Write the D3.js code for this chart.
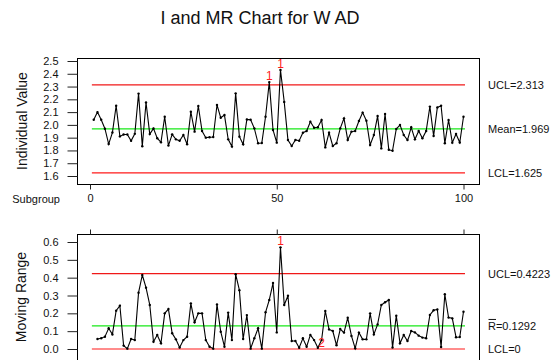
<!DOCTYPE html>
<html>
<head>
<meta charset="utf-8">
<script src="https://cdn.jsdelivr.net/npm/d3@7"></script>
<style>
  body { margin: 0; background: #fff; }
  svg text { font-family: "Liberation Sans", Arial, sans-serif; fill: #111; }
</style>
</head>
<body>
<div id="container"></div>
<script>
// values

var individualValues = [
  2.04, 2.10, 2.04, 1.97, 1.85, 1.94, 2.15, 1.91, 1.925, 1.925,
  1.875, 1.93, 2.245, 1.833, 2.175, 1.928, 1.972, 1.896, 1.864, 2.064,
  1.838, 1.926, 1.887, 1.876, 1.921, 1.848, 2.103, 1.947, 2.148, 1.952,
  1.90, 1.903, 1.905, 2.156, 2.056, 2.077, 1.887, 1.83, 2.247, 1.908,
  1.848, 2.043, 2.04, 1.973, 1.856, 1.858, 2.064, 2.335, 1.96, 1.861,
  2.43, 2.18, 1.882, 1.835, 1.882, 1.876, 1.939, 1.952, 2.025, 1.978,
  1.981, 2.038, 1.824, 1.939, 1.835, 1.856, 1.973, 2.051, 1.882, 1.947,
  1.952, 2.03, 2.096, 2.033, 1.843, 1.921, 2.069, 1.816, 2.085, 1.805,
  1.798, 1.968, 1.999, 1.921, 1.882, 1.981, 1.887, 1.952, 1.895, 1.952,
  2.143, 1.913, 2.137, 2.15, 1.856, 2.038, 1.861, 1.929, 1.862, 2.064
];

// moving ranges start at subgroup 2
var movingRanges = [
  0.056, 0.06, 0.069, 0.116, 0.082, 0.215, 0.243, 0.019, 0.002,
  0.056, 0.05, 0.316, 0.415, 0.344, 0.247, 0.041, 0.079, 0.032, 0.2,
  0.224, 0.088, 0.054, 0.008, 0.05, 0.069, 0.256, 0.15, 0.2, 0.2,
  0.05, 0.013, 0.002, 0.25, 0.097, 0.013, 0.204, 0.05, 0.419, 0.33,
  0.056, 0.19, 0.002, 0.06, 0.116, 0.002, 0.206, 0.275, 0.37, 0.093,
  0.57, 0.247, 0.299, 0.045, 0.045, 0.007, 0.06, 0.013, 0.079, 0.05,
  0.007, 0.05, 0.213, 0.11, 0.101, 0.021, 0.112, 0.092, 0.175, 0.073,
  0.004, 0.092, 0.054, 0.054, 0.2, 0.082, 0.138, 0.247, 0.262, 0.275,
  0.008, 0.187, 0.032, 0.079, 0.045, 0.101, 0.093, 0.075, 0.064, 0.06,
  0.191, 0.217, 0.222, 0.011, 0.307, 0.176, 0.172, 0.066, 0.067, 0.209
];

var iLimits = { ucl: 2.313, center: 1.969, lcl: 1.625 };
var mrLimits = { ucl: 0.4223, center: 0.1292, lcl: 0 };

var iTicks = [1.6, 1.7, 1.8, 1.9, 2.0, 2.1, 2.2, 2.3, 2.4, 2.5];
var mrTicks = [0.0, 0.1, 0.2, 0.3, 0.4, 0.5, 0.6];
var subgroupTicks = [0, 50, 100];

// out of control flags (subgroup, test number)
var iFlags = [[48, "1"], [51, "1"]];
var mrFlags = [[51, "1"], [62, "2"]];

var w = 559;
var h = 360;
var frameLeft = 77;
var frameRight = 479;

var svg = d3
  .select("#container")
  .append("svg")
  .attr("width", w)
  .attr("height", h);

var xScale = d3.scaleLinear().domain([0, 100]).range([90, 463.5]);
var yI = d3.scaleLinear().domain([1.6, 2.5]).range([176, 61]);
var yMR = d3.scaleLinear().domain([0, 0.6]).range([349, 242]);
var fmt = d3.format(".1f");

svg
  .append("text")
  .attr("x", 260)
  .attr("y", 24)
  .attr("text-anchor", "middle")
  .style("font-size", "18px")
  .text("I and MR Chart for W AD");

function drawPanel(top, bottom, yScale, ticks, values, firstSub, limits, labels, flags, xTicksOnTop) {
  var g = svg.append("g");

  // frame
  g.append("rect")
    .attr("x", frameLeft + 0.5)
    .attr("y", top + 0.5)
    .attr("width", frameRight - frameLeft)
    .attr("height", bottom - top)
    .attr("fill", "none")
    .attr("stroke", "#000")
    .attr("stroke-width", 1);

  // y axis, ticks outside the frame
  var yAxis = d3.axisLeft(yScale).tickValues(ticks).tickFormat(fmt).tickSize(10).tickPadding(9);
  var ya = g.append("g").attr("transform", "translate(" + (frameLeft + 0.5) + ",0)").call(yAxis);
  ya.select(".domain").remove();
  ya.selectAll("text").style("font-size", "11px").attr("fill", "#111");
  ya.selectAll("line").attr("stroke", "#222");

  // x axis ticks
  if (xTicksOnTop) {
    var xa = g.append("g")
      .attr("transform", "translate(0," + (top + 0.5) + ")")
      .call(d3.axisTop(xScale).tickValues(subgroupTicks).tickSize(5).tickFormat(""));
    xa.select(".domain").remove();
    xa.selectAll("line").attr("stroke", "#222");
  } else {
    var xb = g.append("g")
      .attr("transform", "translate(0," + (bottom + 0.5) + ")")
      .call(d3.axisBottom(xScale).tickValues(subgroupTicks).tickSize(5).tickPadding(5));
    xb.select(".domain").remove();
    xb.selectAll("line").attr("stroke", "#222");
    xb.selectAll("text").style("font-size", "11px").attr("fill", "#111");
    g.append("text")
      .attr("x", 60)
      .attr("y", bottom + 19)
      .attr("text-anchor", "end")
      .style("font-size", "11px")
      .text("Subgroup");
  }

  // control lines
  var lines = [
    [limits.ucl, "#f01818"],
    [limits.center, "#18e818"],
    [limits.lcl, "#ff1a1a"]
  ];
  lines.forEach(function (l) {
    g.append("line")
      .attr("x1", xScale(0.5))
      .attr("x2", xScale(100.4))
      .attr("y1", yScale(l[0]))
      .attr("y2", yScale(l[0]))
      .attr("stroke", l[1])
      .attr("stroke-width", 1.2);
  });

  // series
  var line = d3
    .line()
    .x(function (d, i) { return xScale(i + firstSub); })
    .y(function (d) { return yScale(d); });

  g.append("path")
    .datum(values)
    .attr("d", line)
    .attr("fill", "none")
    .attr("stroke", "#000")
    .attr("stroke-width", 1.1);

  g.selectAll("circle")
    .data(values)
    .enter()
    .append("circle")
    .attr("cx", function (d, i) { return xScale(i + firstSub); })
    .attr("cy", function (d) { return yScale(d); })
    .attr("r", 1.2)
    .attr("fill", "#000");

  // test 1 flags sit above the point, test 2 flags sit on it
  flags.forEach(function (f) {
    var v = values[f[0] - firstSub];
    var dy = f[1] === "1" ? -2 : 7;
    g.append("text")
      .attr("x", xScale(f[0]))
      .attr("y", yScale(v) + dy)
      .attr("text-anchor", "middle")
      .style("font-size", "12px")
      .style("fill", "#ff2020")
      .text(f[1]);
  });

  // labels at the right
  labels.forEach(function (lb) {
    g.append("text")
      .attr("x", 488)
      .attr("y", yScale(lb[0]) + 4)
      .style("font-size", "11px")
      .text(lb[1]);
  });
  return g;
}

drawPanel(58, 184, yI, iTicks, individualValues, 1, iLimits,
  [[iLimits.ucl, "UCL=2.313"], [iLimits.center, "Mean=1.969"], [iLimits.lcl, "LCL=1.625"]],
  iFlags, false);

var mrPanel = drawPanel(234, 366, yMR, mrTicks, movingRanges, 2, mrLimits,
  [[mrLimits.ucl, "UCL=0.4223"], [mrLimits.center, "R=0.1292"], [mrLimits.lcl, "LCL=0"]],
  mrFlags, true);

// bar over the R of R-bar
mrPanel
  .append("line")
  .attr("x1", 488.5)
  .attr("x2", 496)
  .attr("y1", yMR(mrLimits.center) - 6.5)
  .attr("y2", yMR(mrLimits.center) - 6.5)
  .attr("stroke", "#111")
  .attr("stroke-width", 1);

// axis titles
svg
  .append("text")
  .attr("transform", "translate(27,121) rotate(-90)")
  .attr("text-anchor", "middle")
  .style("font-size", "14px")
  .text("Individual Value");

svg
  .append("text")
  .attr("transform", "translate(26,297) rotate(-90)")
  .attr("text-anchor", "middle")
  .style("font-size", "14px")
  .text("Moving Range");
</script>
</body>
</html>
